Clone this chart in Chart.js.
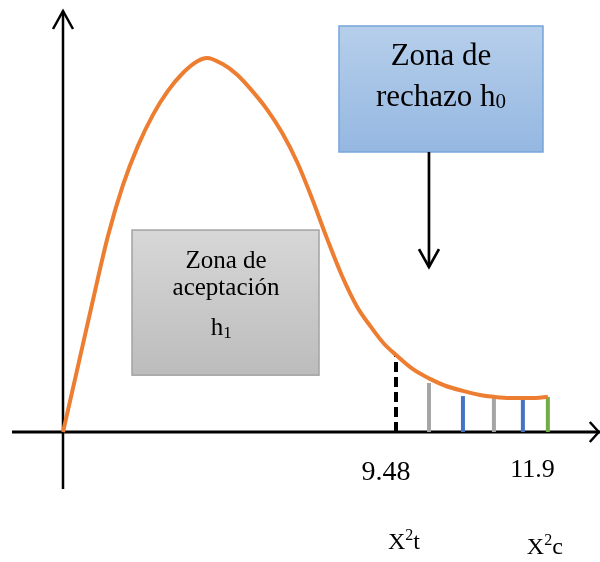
<!DOCTYPE html>
<html>
<head>
<meta charset="utf-8">
<script src="https://cdn.jsdelivr.net/npm/chart.js@4/dist/chart.umd.min.js"></script>
<style>
  html, body { margin: 0; padding: 0; background: #ffffff; }
  #wrap { width: 600px; height: 562px; position: relative; }
</style>
</head>
<body>
<div id="wrap"><canvas id="c"></canvas></div>
<script>
// ---- Data (schematic chi-square density, x in arbitrary units, y relative density) ----
const curveX = [0, 0.45, 0.90, 1.35, 1.80, 2.25, 2.70, 3.15, 3.60, 4.05, 4.32, 4.77, 5.23, 5.68, 6.13, 6.58, 7.03, 7.48, 7.93, 8.38, 8.83, 9.28, 9.64, 10.0, 10.51, 11.02, 11.50, 12.01, 12.52, 12.94, 13.42, 13.81, 14.20, 14.56];
const curveY = [0, 0.176, 0.353, 0.524, 0.660, 0.765, 0.848, 0.912, 0.960, 0.992, 1.0, 0.985, 0.955, 0.912, 0.862, 0.800, 0.722, 0.624, 0.517, 0.417, 0.335, 0.277, 0.236, 0.206, 0.168, 0.142, 0.123, 0.110, 0.099, 0.094, 0.091, 0.091, 0.091, 0.094];

// vertical markers under the tail
const markerX   = [10.0, 10.99, 12.01, 12.94, 13.81, 14.56];
const markerTop = [0.206, 0.131, 0.096, 0.091, 0.091, 0.094];

// tick labels
const tickLabels = ['9.48', '11.9'];
const statLabels = ['t', 'c'];   // X²t, X²c

// ---- Styles ----
const markerColors = ['#000000', '#a5a5a5', '#4472c4', '#a5a5a5', '#4472c4', '#70ad47'];
const markerDash   = [[10, 5], [], [], [], [], []];

const X_MIN = -1.892, X_MAX = 16.126, Y_MIN = -0.3476, Y_MAX = 1.1551;

const datasets = [];
markerX.forEach((x, i) => {
  datasets.push({
    type: 'line',
    data: [{x: x, y: 0}, {x: x, y: markerTop[i]}],
    borderColor: markerColors[i],
    borderWidth: 4,
    borderDash: markerDash[i],
    borderCapStyle: 'butt',
    pointRadius: 0,
    fill: false,
    order: 2
  });
});
datasets.push({
  type: 'line',
  data: curveX.map((x, i) => ({x: x, y: curveY[i]})),
  borderColor: '#ed7d31',
  borderWidth: 4,
  pointRadius: 0,
  cubicInterpolationMode: 'monotone',
  fill: false,
  order: 1
});

function chevron(ctx, tx, ty, dx1, dy1, dx2, dy2) {
  ctx.beginPath();
  ctx.moveTo(tx + dx1, ty + dy1);
  ctx.lineTo(tx, ty);
  ctx.lineTo(tx + dx2, ty + dy2);
  ctx.stroke();
}

const decorPlugin = {
  id: 'decor',
  beforeDatasetsDraw(chart) {
    const ctx = chart.ctx, xs = chart.scales.x, ys = chart.scales.y;
    const X = v => xs.getPixelForValue(v), Y = v => ys.getPixelForValue(v);
    ctx.save();
    ctx.strokeStyle = '#000';
    ctx.lineCap = 'butt';
    // x axis
    ctx.lineWidth = 3;
    ctx.beginPath(); ctx.moveTo(X(-1.532), Y(0)); ctx.lineTo(X(16.126), Y(0)); ctx.stroke();
    ctx.lineWidth = 2.5;
    chevron(ctx, X(16.09), Y(0), -9, -10, -9, 10);
    // y axis
    ctx.lineWidth = 2.5;
    ctx.beginPath(); ctx.moveTo(X(0), Y(-0.1524)); ctx.lineTo(X(0), Y(1.1257)); ctx.stroke();
    chevron(ctx, X(0), Y(1.1257), -10, 18, 10, 18);
    ctx.restore();
  },
  afterDatasetsDraw(chart) {
    const ctx = chart.ctx, xs = chart.scales.x, ys = chart.scales.y;
    const X = v => xs.getPixelForValue(v), Y = v => ys.getPixelForValue(v);
    ctx.save();

    // Blue box: rejection zone
    let x0 = X(8.288), x1 = X(14.414), y0 = Y(1.0856), y1 = Y(0.7487);
    let g = ctx.createLinearGradient(0, y0, 0, y1);
    g.addColorStop(0, '#b6cfeb'); g.addColorStop(1, '#95b7e1');
    ctx.fillStyle = g; ctx.fillRect(x0, y0, x1 - x0, y1 - y0);
    ctx.strokeStyle = '#76a5da'; ctx.lineWidth = 1.5;
    ctx.strokeRect(x0, y0, x1 - x0, y1 - y0);

    // down arrow from blue box
    ctx.strokeStyle = '#000'; ctx.lineWidth = 2.7;
    const ax = X(10.99);
    ctx.beginPath(); ctx.moveTo(ax, y1); ctx.lineTo(ax, Y(0.441)); ctx.stroke();
    chevron(ctx, ax, Y(0.441), -10, -18, 10, -18);

    // Gray box: acceptance zone
    x0 = X(2.072); x1 = X(7.688); y0 = Y(0.540); y1 = Y(0.152);
    g = ctx.createLinearGradient(0, y0, 0, y1);
    g.addColorStop(0, '#d7d7d7'); g.addColorStop(1, '#bcbcbc');
    ctx.fillStyle = g; ctx.fillRect(x0, y0, x1 - x0, y1 - y0);
    ctx.strokeStyle = '#a3a3a3'; ctx.lineWidth = 1.5;
    ctx.strokeRect(x0, y0, x1 - x0, y1 - y0);

    ctx.fillStyle = '#000';
    ctx.textBaseline = 'alphabetic';
    const serif = 'Liberation Serif, Times New Roman, serif';

    // text with subscript / superscript pieces, centred
    function rich(parts, cx, by) {
      let w = 0;
      parts.forEach(p => { ctx.font = p.size + 'px ' + serif; w += ctx.measureText(p.t).width; });
      let x = cx - w / 2;
      ctx.textAlign = 'left';
      parts.forEach(p => {
        ctx.font = p.size + 'px ' + serif;
        ctx.fillText(p.t, x, by + (p.dy || 0));
        x += ctx.measureText(p.t).width;
      });
    }

    // blue box text
    rich([{t: 'Zona de', size: 31}], X(11.351), Y(0.9813));
    rich([{t: 'rechazo h', size: 31}, {t: '0', size: 21, dy: 2}], X(11.351), Y(0.8717));

    // gray box text
    rich([{t: 'Zona de', size: 25}], X(4.895), Y(0.4393));
    rich([{t: 'aceptación', size: 25}], X(4.895), Y(0.3663));
    rich([{t: 'h', size: 25}, {t: '1', size: 17, dy: 3}], X(4.75), Y(0.2594));

    // tick labels
    rich([{t: tickLabels[0], size: 28}], X(9.70), Y(-0.1283));
    rich([{t: tickLabels[1], size: 26}], X(14.10), Y(-0.1203));

    // statistic labels X²t, X²c
    rich([{t: 'X', size: 24}, {t: '2', size: 16, dy: -9}, {t: statLabels[0], size: 24}], X(10.24), Y(-0.3128));
    rich([{t: 'X', size: 24}, {t: '2', size: 16, dy: -9}, {t: statLabels[1], size: 24}], X(14.47), Y(-0.3262));

    ctx.restore();
  }
};

new Chart(document.getElementById('c'), {
  type: 'scatter',
  data: { datasets: datasets },
  options: {
    responsive: true,
    maintainAspectRatio: false,
    animation: false,
    devicePixelRatio: 1,
    layout: { padding: 0 },
    plugins: { legend: { display: false }, tooltip: { enabled: false } },
    scales: {
      x: { type: 'linear', min: X_MIN, max: X_MAX, display: false },
      y: { type: 'linear', min: Y_MIN, max: Y_MAX, display: false }
    }
  },
  plugins: [decorPlugin]
});
</script>
</body>
</html>
